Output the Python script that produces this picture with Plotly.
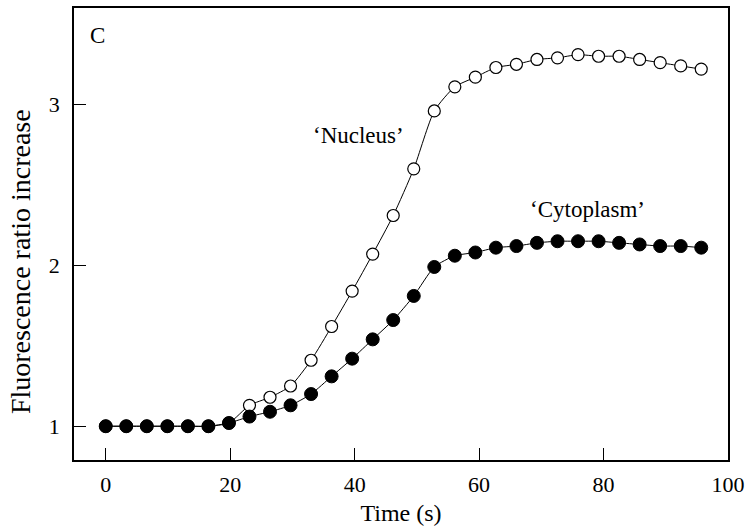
import plotly.graph_objects as go

time_s = [0.0, 3.3, 6.6, 9.9, 13.2, 16.5, 19.8, 23.1, 26.4, 29.7,
          33.0, 36.3, 39.6, 42.9, 46.2, 49.5, 52.8, 56.1, 59.4, 62.7,
          66.0, 69.3, 72.6, 75.9, 79.2, 82.5, 85.8, 89.1, 92.4, 95.7]

nucleus = [1.0, 1.0, 1.0, 1.0, 1.0, 1.0, 1.02, 1.13, 1.18, 1.25,
           1.41, 1.62, 1.84, 2.07, 2.31, 2.60, 2.96, 3.11, 3.17, 3.23,
           3.25, 3.28, 3.29, 3.31, 3.30, 3.30, 3.28, 3.26, 3.24, 3.22]

cytoplasm = [1.0, 1.0, 1.0, 1.0, 1.0, 1.0, 1.02, 1.06, 1.09, 1.13,
             1.20, 1.31, 1.42, 1.54, 1.66, 1.81, 1.99, 2.06, 2.08, 2.11,
             2.12, 2.14, 2.15, 2.15, 2.15, 2.14, 2.13, 2.12, 2.12, 2.11]

x_ticks = [0, 20, 40, 60, 80, 100]
y_ticks = [1, 2, 3]

FONT = "Liberation Serif"

fig = go.Figure()
fig.add_trace(go.Scatter(
    x=time_s, y=nucleus, mode="lines+markers", name="Nucleus",
    line=dict(color="black", width=1, shape="spline", smoothing=0.6),
    marker=dict(symbol="circle", size=12, color="white",
                line=dict(color="black", width=1.2)),
))
fig.add_trace(go.Scatter(
    x=time_s, y=cytoplasm, mode="lines+markers", name="Cytoplasm",
    line=dict(color="black", width=1, shape="spline", smoothing=0.6),
    marker=dict(symbol="circle", size=13, color="black",
                line=dict(color="black", width=1)),
))

fig.add_annotation(x=-1.4, y=3.43, text="C", showarrow=False,
                   font=dict(family=FONT, size=23, color="black"))
fig.add_annotation(x=40.6, y=2.81, text="‘Nucleus’", showarrow=False,
                   font=dict(family=FONT, size=23, color="black"))
fig.add_annotation(x=77.4, y=2.35, text="‘Cytoplasm’", showarrow=False,
                   font=dict(family=FONT, size=23, color="black"))
# y-axis title placed as a rotated annotation (sits below the axis centre in the reference)
fig.add_annotation(x=-0.0826, y=0.44, xref="paper", yref="paper",
                   text="Fluorescence ratio increase", showarrow=False,
                   textangle=-90, xanchor="center", yanchor="middle",
                   font=dict(family=FONT, size=28, color="black"))

axis_common = dict(
    showline=True, linecolor="black", linewidth=1.5, mirror=True,
    ticks="inside", ticklen=12, tickwidth=1.2, tickcolor="black",
    showgrid=False, zeroline=False, automargin=False,
    tickfont=dict(family=FONT, size=22, color="black"),
)

fig.update_layout(
    width=747, height=527,
    margin=dict(l=74, r=19, t=8, b=67),
    paper_bgcolor="white", plot_bgcolor="white",
    showlegend=False,
    xaxis=dict(range=[-5.1, 100], tickvals=x_ticks, ticklabelstandoff=4,
               title=dict(text="Time (s)", font=dict(family=FONT, size=24, color="black"), standoff=8),
               **axis_common),
    yaxis=dict(range=[0.79, 3.6], tickvals=y_ticks, ticklabelstandoff=8,
               **axis_common),
)

fig.write_html("out.html", config={"displayModeBar": False},
               post_script="document.body.style.margin='0px';")
